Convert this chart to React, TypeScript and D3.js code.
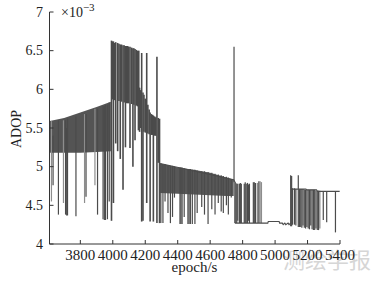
import React from 'react'
import * as d3 from 'd3'

const W = 377
const H = 281

// ADOP values are in units of 1e-3
// dense parts where the trace fills a band: [epoch, low, high]
const bandA: [number, number, number][] = [
  [3612, 5.18, 5.59], [3700, 5.18, 5.63], [3800, 5.18, 5.7], [3900, 5.19, 5.77], [3988, 5.2, 5.84],
]
const bandC: [number, number, number][] = [
  [4292, 4.66, 5.04], [4400, 4.65, 4.99], [4500, 4.64, 4.96], [4600, 4.63, 4.92], [4700, 4.62, 4.86], [4745, 4.62, 4.83],
]

// single epochs that jump away from the band: [epoch, low, high]
const spikesA: [number, number, number][] = [
  [3632, 4.76, 5.4], [3665, 4.38, 5.6], [3709, 4.38, 5.6], [3716, 4.37, 5.5], [3721, 4.37, 5.62],
  [3773, 4.36, 5.65], [3835, 4.61, 5.68], [3906, 4.38, 5.75], [3940, 4.32, 5.78], [3948, 4.31, 5.78],
  [3955, 4.31, 5.8], [3967, 4.32, 5.8], [3978, 4.55, 5.83],
]
const spikesB: [number, number, number][] = [
  [3992, 4.3, 6.63], [3998, 5.87, 6.62], [4004, 4.53, 6.62], [4010, 5.86, 6.6], [4018, 5.3, 6.61],
  [4030, 5.2, 6.6], [4038, 5.85, 6.59], [4046, 5.1, 6.58], [4054, 5.84, 6.58], [4063, 4.7, 6.57],
  [4070, 5.83, 6.57], [4078, 5.25, 6.56], [4085, 5.82, 6.56], [4092, 5.82, 6.56], [4098, 5.82, 6.55],
  [4106, 5.24, 6.55], [4116, 5.81, 6.54], [4124, 5.0, 6.53], [4130, 5.8, 6.53], [4137, 5.34, 6.52],
  [4145, 5.79, 6.51], [4152, 5.78, 6.5], [4160, 5.78, 6.5],
  [4158, 5.47, 6.03], [4165, 5.45, 6.02], [4172, 5.5, 5.99], [4178, 4.29, 6.47], [4186, 4.3, 5.96],
  [4192, 5.45, 5.93], [4200, 5.44, 5.88], [4209, 4.53, 6.47], [4216, 5.43, 5.8], [4224, 5.42, 5.74],
  [4230, 4.29, 5.7], [4238, 5.41, 5.68], [4245, 5.41, 5.67], [4250, 4.29, 5.66], [4258, 5.4, 5.65],
  [4265, 5.4, 5.64], [4272, 4.27, 6.42], [4280, 5.05, 5.63], [4288, 4.27, 5.62],
]
const spikesC: [number, number, number][] = [
  [4296, 4.27, 5.04], [4309, 4.27, 5.03], [4322, 4.55, 5.03], [4340, 4.4, 5.02], [4355, 4.27, 5.01],
  [4368, 4.35, 5.01], [4380, 4.6, 5.0], [4414, 4.26, 4.99], [4420, 4.26, 4.99], [4427, 4.26, 4.99],
  [4440, 4.35, 4.98], [4463, 4.26, 4.97], [4470, 4.26, 4.97], [4478, 4.26, 4.97], [4490, 4.26, 4.96],
  [4506, 4.26, 4.96], [4520, 4.4, 4.95], [4548, 4.48, 4.94], [4565, 4.38, 4.94], [4587, 4.26, 4.93],
  [4610, 4.45, 4.92], [4630, 4.38, 4.91], [4650, 4.53, 4.9], [4668, 4.42, 4.89], [4681, 4.4, 4.88],
  [4700, 4.5, 4.87], [4712, 4.38, 4.86], [4730, 4.6, 4.84], [4747, 4.8, 6.55],
]
const spikesD: [number, number, number][] = [
  [4752, 4.27, 4.8], [4758, 4.27, 4.79], [4764, 4.27, 4.78], [4770, 4.3, 4.78], [4780, 4.27, 4.78],
  [4786, 4.27, 4.79], [4792, 4.27, 4.78], [4810, 4.27, 4.78], [4816, 4.27, 4.8], [4822, 4.27, 4.78],
  [4830, 4.27, 4.79], [4836, 4.3, 4.77], [4842, 4.27, 4.78], [4866, 4.27, 4.8], [4872, 4.27, 4.8],
  [4880, 4.27, 4.79], [4900, 4.27, 4.81],
]
const spikesE: [number, number, number][] = [
  [5096, 4.23, 4.89], [5102, 4.23, 4.88], [5108, 4.25, 4.72], [5120, 4.25, 4.72], [5128, 4.24, 4.71],
  [5143, 4.22, 4.89], [5150, 4.22, 4.71], [5158, 4.22, 4.71], [5165, 4.21, 4.71], [5172, 4.24, 4.71],
  [5180, 4.21, 4.7], [5188, 4.2, 4.7], [5196, 4.22, 4.7], [5204, 4.2, 4.7], [5212, 4.19, 4.7],
  [5220, 4.24, 4.7], [5228, 4.19, 4.7], [5236, 4.18, 4.7], [5244, 4.18, 4.7], [5252, 4.2, 4.69],
  [5260, 4.18, 4.69], [5268, 4.18, 4.69], [5297, 4.31, 4.68], [5318, 4.28, 4.68], [5372, 4.15, 4.68],
]
// fainter strokes
const spikesLight: [number, number, number][] = [
  [3622, 4.55, 5.59], [3696, 4.53, 5.6], [3826, 4.53, 5.68], [3890, 4.76, 5.75],
  [4892, 4.27, 4.79], [4908, 4.27, 4.81], [4916, 4.27, 4.8], [5276, 4.2, 4.69],
]

// continuous pieces of the trace: [epoch, value]
const traceC: [number, number][] = [[4292, 5.04], [4745, 4.83], [4756, 4.79]]
const traceD: [number, number][] = [
  [4752, 4.27], [4955, 4.27], [4958, 4.29], [5025, 4.29], [5028, 4.27], [5045, 4.27], [5050, 4.25],
  [5060, 4.27], [5066, 4.25], [5080, 4.27], [5086, 4.25], [5096, 4.27],
]
const traceE: [number, number][] = [
  [5100, 4.71], [5190, 4.71], [5195, 4.7], [5255, 4.7], [5262, 4.68], [5398, 4.68],
]

const xTicks = [3800, 4000, 4200, 4400, 4600, 4800, 5000, 5200, 5400]
const yTicks = [4, 4.5, 5, 5.5, 6, 6.5, 7]

export default function App() {
  const x = d3.scaleLinear().domain([3610, 5400]).range([49.5, 340])
  const y = d3.scaleLinear().domain([4, 7]).range([244, 12])

  const area = d3
    .area<[number, number, number]>()
    .x((d) => x(d[0]))
    .y0((d) => y(d[1]))
    .y1((d) => y(d[2]))
  const line = d3
    .line<[number, number]>()
    .x((d) => x(d[0]))
    .y((d) => y(d[1]))

  const ink = '#4b4b4b'
  const strokes = (list: [number, number, number][], color: string, key: string, w = 1.2) =>
    list.map((d, i) => (
      <line
        key={key + i}
        x1={x(d[0])}
        x2={x(d[0])}
        y1={y(d[1])}
        y2={y(d[2])}
        stroke={color}
        strokeWidth={w}
      />
    ))

  const font = 'Liberation Serif, Times New Roman, serif'

  return (
    <svg
      width={W}
      height={H}
      style={{ position: 'absolute', left: 0, top: 0, background: '#fff', fontFamily: font }}
    >
      <text x={283} y={268} fontSize={22} fill="#d6d6d6" style={{ fontFamily: 'Noto Sans CJK SC' }}>
        测绘学报
      </text>

      {/* data */}
      <path d={area(bandA) ?? ''} fill="#545454" />
      <path d={area(bandC) ?? ''} fill="#585858" />
      {strokes(spikesLight, '#8d8d8d', 'l')}
      {strokes(spikesA, ink, 'a')}
      {strokes(spikesB, ink, 'b', 1.6)}
      {strokes(spikesC, ink, 'c')}
      {strokes(spikesD, ink, 'd')}
      {strokes(spikesE, ink, 'e')}
      {[traceC, traceD, traceE].map((t, i) => (
        <path key={'t' + i} d={line(t) ?? ''} fill="none" stroke={ink} strokeWidth={1.1} />
      ))}

      {/* axes */}
      <line x1={49.5} x2={49.5} y1={12} y2={244} stroke="#333" />
      <line x1={49.5} x2={340} y1={244} y2={244} stroke="#333" />
      {yTicks.map((t) => (
        <g key={'y' + t}>
          <line x1={49.5} x2={53.5} y1={y(t)} y2={y(t)} stroke="#333" />
          <text x={43} y={y(t) + 4.5} fontSize={14} textAnchor="end" fill="#222">
            {t}
          </text>
        </g>
      ))}
      {xTicks.map((t) => (
        <g key={'x' + t}>
          <line x1={x(t)} x2={x(t)} y1={244} y2={240} stroke="#333" />
          <text x={x(t)} y={260} fontSize={15} textAnchor="middle" fill="#222">
            {t}
          </text>
        </g>
      ))}
      <text x={61} y={16.5} fontSize={14} fill="#222">
        ×10
        <tspan fontSize={11} dy={-6}>
          −3
        </tspan>
      </text>
      <text
        transform="translate(21,129) rotate(-90)"
        fontSize={14}
        textAnchor="middle"
        fill="#222"
      >
        ADOP
      </text>
      <text x={194.5} y={272} fontSize={15} textAnchor="middle" fill="#222">
        epoch/s
      </text>
    </svg>
  )
}
